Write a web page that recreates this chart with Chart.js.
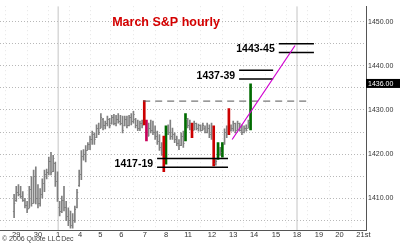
<!DOCTYPE html>
<html>
<head>
<meta charset="utf-8">
<script src="https://cdn.jsdelivr.net/npm/chart.js@4.4.0/dist/chart.umd.min.js"></script>
<style>
  html, body { margin: 0; padding: 0; background: #fff; }
  canvas { display: block; }
</style>
</head>
<body>
<canvas id="chart" width="400" height="243"></canvas>
<script>
// hourly bars, Nov 29 .. Dec 14 (index = bar number)
const barHigh = [
  1410.9, 1412.7, 1413.1, 1412.7, 1411.5, 1410.0, 1409.3, 1412.7, 1414.9, 1416.4,
  1417.1, 1413.1, 1412.2, 1414.4, 1416.4, 1416.6, 1419.3, 1420.4, 1419.7, 1418.2,
  1416.0, 1409.3, 1410.5, 1412.7, 1409.3, 1407.8, 1407.1, 1406.5, 1408.2, 1412.0,
  1416.4, 1420.8, 1421.0, 1421.9, 1422.6, 1424.1, 1425.2, 1424.8, 1426.6, 1427.0,
  1429.2, 1428.1, 1427.5, 1428.6, 1428.1, 1428.8, 1429.0, 1428.8, 1429.2, 1428.8,
  1428.6, 1428.6, 1428.6, 1428.8, 1429.2, 1429.7, 1428.1, 1427.7, 1427.5, 1427.7,
  1432.1, 1427.7, 1427.0, 1427.7, 1427.5, 1426.4, 1425.2, 1424.4, 1422.6, 1424.1,
  1426.4, 1426.6, 1427.7, 1425.9, 1424.8, 1424.1, 1423.3, 1424.8, 1425.2, 1429.2,
  1428.1, 1427.7, 1427.0, 1427.5, 1427.0, 1426.8, 1426.6, 1427.0, 1426.4, 1427.0,
  1426.6, 1427.0, 1426.4, 1418.8, 1422.6, 1421.5, 1422.6, 1425.7, 1426.4, 1430.3,
  1426.6, 1427.5, 1427.0, 1427.5, 1427.0, 1426.6, 1426.4, 1426.6, 1427.7, 1435.9
];
const barLow = [
  1405.6, 1409.3, 1410.5, 1410.0, 1409.3, 1407.8, 1406.7, 1407.8, 1408.2, 1408.9,
  1408.7, 1407.8, 1408.2, 1410.0, 1411.5, 1414.4, 1415.3, 1415.3, 1416.0, 1412.7,
  1409.3, 1406.0, 1406.7, 1407.1, 1404.9, 1403.8, 1403.2, 1403.2, 1404.5, 1407.8,
  1412.7, 1414.2, 1418.6, 1418.2, 1421.0, 1421.0, 1422.2, 1422.2, 1423.7, 1424.4,
  1425.9, 1425.5, 1425.7, 1426.4, 1425.9, 1426.8, 1426.6, 1426.4, 1427.0, 1426.6,
  1424.8, 1426.4, 1425.9, 1426.4, 1426.6, 1427.0, 1425.9, 1425.3, 1425.3, 1425.9,
  1426.6, 1423.0, 1424.1, 1424.8, 1424.4, 1423.3, 1422.2, 1420.8, 1419.7, 1416.0,
  1417.7, 1424.4, 1423.3, 1423.3, 1422.6, 1421.9, 1421.0, 1421.9, 1421.5, 1423.0,
  1425.9, 1425.5, 1423.7, 1425.5, 1425.5, 1425.2, 1425.2, 1425.5, 1424.8, 1424.8,
  1423.7, 1423.3, 1417.3, 1417.5, 1418.8, 1419.7, 1419.3, 1422.2, 1423.7, 1424.4,
  1425.2, 1425.2, 1424.8, 1425.5, 1425.2, 1424.4, 1424.8, 1425.2, 1425.9, 1425.5
];
const barOpen = [
  1407, 1409.5, 1411.5, 1411, 1410.5, 1409.5, 1408.5, 1407.8, 1412, 1409,
  1415, 1410, 1409, 1411, 1413.5, 1415.5, 1416, 1418.5, 1416.2, 1418,
  1414, 1408, 1407, 1409.5, 1408, 1406, 1405, 1404, 1405, 1408,
  1413, 1415.5, 1419.5, 1420, 1421, 1422.2, 1423.5, 1424.5, 1423.8, 1426,
  1426, 1428, 1426.5, 1427, 1428, 1427, 1428.5, 1427, 1428, 1427.5,
  1427, 1426.5, 1428, 1426.5, 1428.5, 1427.5, 1428, 1426.5, 1426, 1427,
  1431.5, 1427, 1424.2, 1426, 1425.5, 1425, 1424, 1423, 1421.5, 1423.5,
  1418, 1425.5, 1425, 1424, 1424.5, 1423.5, 1422.5, 1422, 1424, 1423,
  1428, 1426.5, 1427, 1425.5, 1427, 1426, 1426.5, 1425.5, 1426, 1425,
  1426, 1424.5, 1426, 1418, 1419, 1421, 1420, 1422.5, 1425, 1430,
  1425.5, 1426, 1427, 1425.5, 1427, 1425.5, 1425, 1426, 1425.9, 1426
];
const barClose = [
  1409, 1411.5, 1411, 1410.5, 1409.5, 1408.5, 1407.5, 1412, 1409, 1415,
  1410, 1409, 1411, 1413.5, 1415.5, 1416, 1418.5, 1416, 1419, 1414,
  1410, 1407, 1409.5, 1408, 1406, 1405, 1404, 1405, 1407.5, 1411.5,
  1415.5, 1419.5, 1420, 1421, 1422.2, 1423.5, 1424.5, 1423.5, 1426, 1425,
  1428.5, 1426.5, 1427, 1428, 1426.5, 1428.5, 1427, 1428, 1427.5, 1427,
  1425.5, 1428, 1426.5, 1428.5, 1427.5, 1429, 1426.5, 1426, 1427, 1426.5,
  1427, 1424, 1426, 1425.5, 1425, 1424, 1423, 1421.5, 1420.5, 1417,
  1425.5, 1425, 1424, 1424.5, 1423.5, 1422.5, 1422, 1424, 1422.5, 1428.5,
  1426.5, 1427, 1424, 1427, 1426, 1426.5, 1425.5, 1426.5, 1425, 1426,
  1424.5, 1426, 1418, 1418.5, 1422, 1420.5, 1422.5, 1425, 1424.5, 1425,
  1426, 1427, 1425.5, 1427, 1425.5, 1425, 1426, 1425.5, 1427.5, 1435.5
];

// highlighted bars
const redBars = [60, 69, 82, 92, 99];
const greenBars = [70, 79, 94, 96, 109];
const magentaBars = [61];

// x axis: day labels and where they sit (bar number)
const dayLabels = ['29', '30', '1', '4', '5', '6', '7', '8', '11', '12', '13', '14', '15', '18', '19', '20', '21st'];
const dayPos = [1, 11, 20.3, 30.4, 39.8, 49.4, 60.3, 70, 80.2, 91.2, 101, 110.6, 120.7, 130.4, 140.5, 150, 161];
const solidDays = ['1', '18'];

// target zones
const levelText = ['1443-45', '1437-39', '1417-19'];
const levelLow = [1443, 1437, 1417];
const levelHigh = [1445, 1439, 1419];
const levelFrom = [122, 103.7, 65.9];
const levelTo = [138.2, 119.4, 98.6];

// dashed resistance and trend line
const resistLevel = 1432;
const resistSpan = [59.5, 135];
const trendX = [100.5, 129.5];
const trendY = [1423.3, 1444.6];

const lastPrice = 1436;

const yMin = 1402.8, yMax = 1453.5;
const xMin = -6.5, xMax = 162.2;

const plainColor = '#808080';

const plainIdx = barHigh.map((_, i) => i).filter(i =>
  !redBars.includes(i) && !greenBars.includes(i) && !magentaBars.includes(i));

function barPoints(list) {
  return list.map(i => ({ x: i, y: [barLow[i], barHigh[i]] }));
}
function seg(x1, y1, x2, y2) {
  return [{ x: x1, y: y1 }, { x: x2, y: y2 }];
}

const lineBase = { type: 'line', pointRadius: 0, fill: false, tension: 0 };
const datasets = [];

// solid vertical guide lines
solidDays.forEach(d => {
  const p = dayPos[dayLabels.indexOf(d)];
  datasets.push({ ...lineBase, data: seg(p, yMin, p, yMax), borderColor: '#c4c4c4', borderWidth: 1, order: 20 });
});

datasets.push({ type: 'bar', data: barPoints(plainIdx), backgroundColor: plainColor, barThickness: 1, order: 10, grouped: false });
datasets.push({ type: 'bar', data: barPoints(redBars), backgroundColor: '#cc0000', barThickness: 2, order: 9, grouped: false });
datasets.push({ type: 'bar', data: barPoints(greenBars), backgroundColor: '#006b00', barThickness: 2, order: 9, grouped: false });
datasets.push({ type: 'bar', data: barPoints(magentaBars), backgroundColor: '#c8005a', barThickness: 2, order: 9, grouped: false });

datasets.push({ ...lineBase, data: seg(resistSpan[0], resistLevel, resistSpan[1], resistLevel),
  borderColor: '#555', borderWidth: 1, borderDash: [7, 5], order: 5 });

levelText.forEach((_, k) => {
  [levelLow[k], levelHigh[k]].forEach(v => {
    datasets.push({ ...lineBase, data: seg(levelFrom[k], v, levelTo[k], v), borderColor: '#000', borderWidth: 1.5, order: 4 });
  });
});

datasets.push({ ...lineBase, data: seg(trendX[0], trendY[0], trendX[1], trendY[1]),
  borderColor: '#d000d0', borderWidth: 1.2, order: 3 });

const overlay = {
  id: 'overlay',
  afterDatasetsDraw(chart) {
    const { ctx, scales: { x, y } } = chart;
    // open / close ticks on the plain bars
    ctx.save();
    ctx.strokeStyle = plainColor;
    ctx.lineWidth = 1;
    ctx.beginPath();
    plainIdx.forEach(i => {
      const px = x.getPixelForValue(i);
      const po = Math.round(y.getPixelForValue(barOpen[i])) + 0.5;
      const pc = Math.round(y.getPixelForValue(barClose[i])) + 0.5;
      ctx.moveTo(px - 1.2, po); ctx.lineTo(px, po);
      ctx.moveTo(px, pc); ctx.lineTo(px + 1.2, pc);
    });
    ctx.stroke();
    ctx.restore();
  },
  afterDraw(chart) {
    const { ctx, chartArea, scales: { x, y } } = chart;
    ctx.save();
    // title
    ctx.fillStyle = '#d40000';
    ctx.font = 'bold 12.5px "Liberation Sans", Arial, sans-serif';
    ctx.textAlign = 'center';
    ctx.textBaseline = 'middle';
    ctx.fillText('March S&P hourly', 166, 23);

    // zone labels
    ctx.fillStyle = '#000';
    ctx.font = 'bold 10.5px "Liberation Sans", Arial, sans-serif';
    ctx.textAlign = 'right';
    levelText.forEach((t, k) => {
      const px = x.getPixelForValue(levelFrom[k]) - 4;
      const py = y.getPixelForValue((levelLow[k] + levelHigh[k]) / 2) + 1;
      ctx.fillText(t, px, py);
    });

    // last price box on the right axis
    const py = y.getPixelForValue(lastPrice);
    ctx.fillStyle = '#000';
    ctx.fillRect(chartArea.right, py - 4.5, chart.width - chartArea.right, 9);
    ctx.fillStyle = '#fff';
    ctx.font = '7px "Liberation Sans", Arial, sans-serif';
    ctx.textAlign = 'left';
    ctx.fillText(lastPrice.toFixed(2), chartArea.right + 2, py + 0.5);

    // footer
    ctx.fillStyle = '#444';
    ctx.font = '7px "Liberation Sans", Arial, sans-serif';
    ctx.fillText('\u00a9 2006 Quote LLC', 2, 239);
    ctx.fillText('Dec', x.getPixelForValue(dayPos[2]) + 3, 239);
    ctx.restore();
  }
};

new Chart(document.getElementById('chart'), {
  type: 'bar',
  data: { datasets },
  options: {
    responsive: false,
    animation: false,
    devicePixelRatio: 1,
    layout: { padding: 0 },
    plugins: { legend: { display: false }, tooltip: { enabled: false }, title: { display: false } },
    scales: {
      x: {
        type: 'linear',
        position: 'bottom',
        min: xMin,
        max: xMax,
        offset: false,
        afterFit: s => { s.height = 13; },
        afterBuildTicks: s => { s.ticks = dayPos.map(v => ({ value: v })); },
        grid: { color: '#e6e6e6', drawTicks: false },
        border: { display: true, color: '#555', width: 1, dash: [1, 3] },
        ticks: {
          autoSkip: false,
          maxRotation: 0,
          padding: 0,
          color: '#333',
          font: { size: 7.5, family: '"Liberation Sans", Arial, sans-serif' },
          callback: (v, i) => dayLabels[i]
        }
      },
      y: {
        type: 'linear',
        position: 'right',
        min: yMin,
        max: yMax,
        afterFit: s => { s.width = 34; },
        afterBuildTicks: s => {
          const t = [];
          for (let v = 1405; v <= 1450; v += 5) t.push({ value: v });
          s.ticks = t;
        },
        grid: { color: '#b8b8b8', drawTicks: false },
        border: { display: true, color: '#555', width: 1, dash: [1, 2] },
        ticks: {
          padding: 2,
          color: '#333',
          font: { size: 7, family: '"Liberation Sans", Arial, sans-serif' },
          callback: v => (v % 10 === 0 ? v.toFixed(2) : '')
        }
      }
    }
  },
  plugins: [overlay]
});
</script>
</body>
</html>
